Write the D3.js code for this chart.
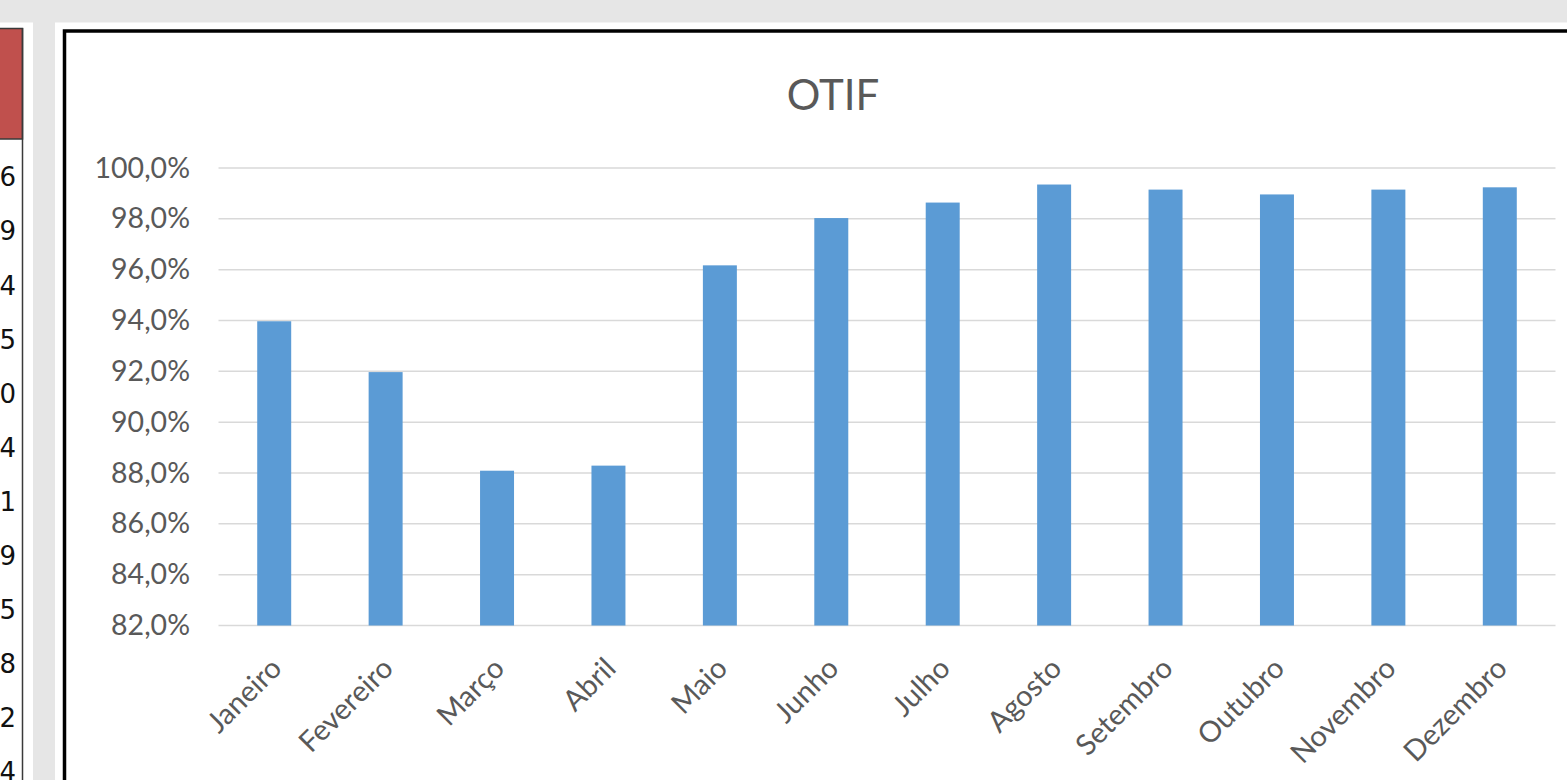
<!DOCTYPE html>
<html lang="pt">
<head>
<meta charset="utf-8">
<title>OTIF</title>
<script src="https://cdn.jsdelivr.net/npm/d3@7"></script>
<style>
  body { margin: 0; background: #e6e6e6; overflow: hidden; }
  svg { display: block; }
  .lbl { font-family: Lato, "Open Sans", sans-serif; fill: #595959; }
</style>
</head>
<body>
<div id="chart"></div>
<script>
// data
const months = ["Janeiro", "Fevereiro", "Março", "Abril", "Maio", "Junho",
                "Julho", "Agosto", "Setembro", "Outubro", "Novembro", "Dezembro"];
const otif = [0.9397, 0.9197, 0.8809, 0.8829, 0.9617, 0.9803,
              0.9864, 0.9935, 0.9915, 0.9896, 0.9915, 0.9924];
const yTicks = [0.82, 0.84, 0.86, 0.88, 0.90, 0.92, 0.94, 0.96, 0.98, 1.00];
// last digits of the neighbouring spreadsheet column (cut off)
const tableDigits = ["6", "9", "4", "5", "0", "4", "1", "9", "5", "8", "2", "4"];

const W = 1567, H = 780;
const ptBR = d3.formatLocale({ decimal: ",", thousands: ".", grouping: [3], currency: ["R$", ""] });
const pct = ptBR.format(".1%");

const svg = d3.select("#chart").append("svg")
  .attr("width", W).attr("height", H);

// left sheet fragment
svg.append("rect").attr("x", 0).attr("y", 22.5).attr("width", 33).attr("height", H)
  .attr("fill", "#fff");
svg.append("rect").attr("x", -2).attr("y", 28.5).attr("width", 24.5).attr("height", 110.5)
  .attr("fill", "#c0504d").attr("stroke", "#3a3a3a").attr("stroke-width", 1.5);
svg.append("line").attr("x1", 22.5).attr("x2", 22.5).attr("y1", 28).attr("y2", H)
  .attr("stroke", "#3a3a3a").attr("stroke-width", 1.5);

const rowY = d3.scaleLinear().domain([0, 11]).range([177, 772]);
svg.append("g").selectAll("text")
  .data(tableDigits)
  .enter().append("text")
  .attr("x", 16)
  .attr("y", (d, i) => rowY(i))
  .attr("dy", "0.36em")
  .attr("text-anchor", "end")
  .style("font-family", "'DejaVu Sans', Verdana, sans-serif")
  .style("font-size", "26px")
  .attr("fill", "#111")
  .text(d => d);

// chart panel
svg.append("rect").attr("x", 55).attr("y", 22.5).attr("width", W).attr("height", H)
  .attr("fill", "#fff");
svg.append("rect").attr("x", 64.5).attr("y", 31).attr("width", W).attr("height", H)
  .attr("fill", "none").attr("stroke", "#000").attr("stroke-width", 3.5);

const x = d3.scaleBand().domain(months).range([218.5, 1555.5])
  .paddingInner(0.695).paddingOuter(0.3475);
const y = d3.scaleLinear().domain([0.82, 1.0]).range([625.5, 168]);

// gridlines
svg.append("g").selectAll("line")
  .data(yTicks)
  .enter().append("line")
  .attr("x1", 218.5).attr("x2", 1555.5)
  .attr("y1", d => y(d)).attr("y2", d => y(d))
  .attr("stroke", "#d9d9d9").attr("stroke-width", 1.5);

// y axis labels
const yAxis = svg.append("g").attr("transform", "translate(190,0)")
  .call(d3.axisLeft(y).tickValues(yTicks).tickFormat(pct).tickSize(0).tickPadding(0));
yAxis.select(".domain").remove();
yAxis.selectAll("text").attr("class", "lbl").style("font-size", "28.5px");

// bars
svg.append("g").selectAll("rect")
  .data(months)
  .enter().append("rect")
  .attr("x", d => x(d))
  .attr("width", x.bandwidth())
  .attr("y", (d, i) => y(otif[i]))
  .attr("height", (d, i) => y(0.82) - y(otif[i]))
  .attr("fill", "#5b9bd5");

// x axis labels
const xAxis = svg.append("g").attr("transform", "translate(0,663)")
  .call(d3.axisBottom(x).tickSize(0).tickPadding(0));
xAxis.select(".domain").remove();
xAxis.selectAll("text")
  .attr("class", "lbl")
  .style("font-size", "29px")
  .attr("text-anchor", "end")
  .attr("dy", "0.35em")
  .attr("transform", "translate(2,0) rotate(-45)");

// title
svg.append("text").attr("class", "lbl")
  .attr("x", 833).attr("y", 110)
  .attr("text-anchor", "middle")
  .style("font-size", "42px")
  .text("OTIF");
</script>
</body>
</html>
